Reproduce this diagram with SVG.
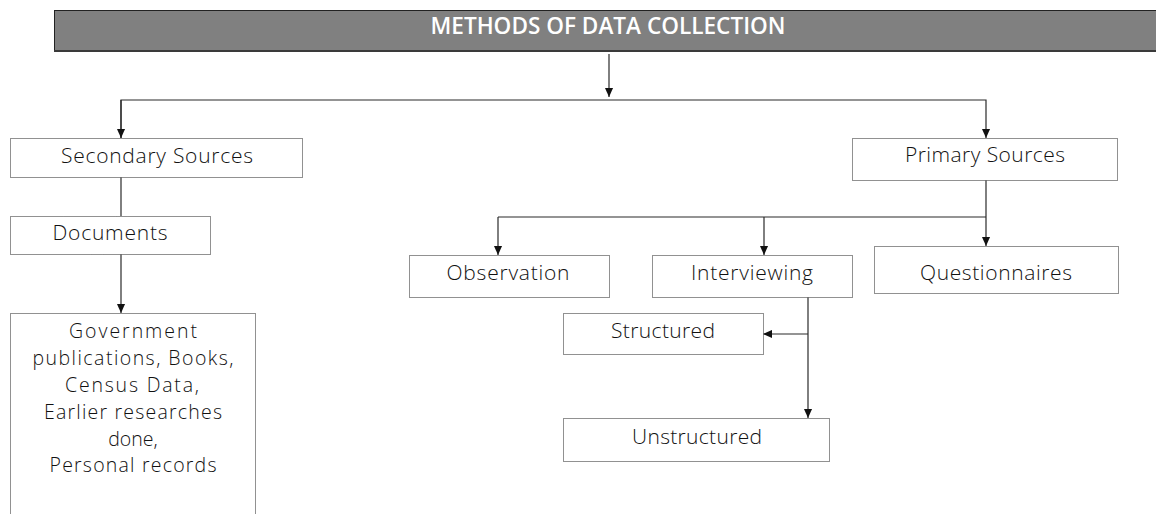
<svg xmlns="http://www.w3.org/2000/svg" width="1156" height="514" viewBox="0 0 1156 514">
<style>
.box{fill:#fff;stroke:#222;stroke-width:1;stroke-dasharray:1 1}
.lbl{font-family:"Open Sans","Noto Sans",sans-serif;font-weight:300;font-size:21px;fill:#111;text-anchor:middle}
.gl{font-size:19.5px}
.con{fill:none;stroke:#2a2a2a;stroke-width:1.2}
</style>
<defs>
<marker id="ah" viewBox="0 0 10 10" markerWidth="9" markerHeight="9" refX="10" refY="5" orient="auto" markerUnits="userSpaceOnUse">
<path d="M0,0.5 L10,5 L0,9.5 z" fill="#111"/>
</marker>
</defs>
<g id="title">
<rect x="54.5" y="10.5" width="1110" height="41" fill="#808080" stroke="#222" stroke-width="1"/>
<line x1="54" y1="51" x2="1156" y2="51" stroke="#3a3a3a" stroke-width="2"/>
<text x="608" y="34" font-family="'Open Sans','Liberation Sans',sans-serif" font-size="23" font-weight="600" fill="#fff" text-anchor="middle" textLength="355" lengthAdjust="spacingAndGlyphs">METHODS OF DATA COLLECTION</text>
</g>
<g id="connectors">
<polyline class="con" points="121,138 121,100 986,100 986,138" marker-end="url(#ah)"/>
<line class="con" x1="609" y1="54" x2="609" y2="97" marker-end="url(#ah)"/>
<line class="con" x1="121" y1="100" x2="121" y2="138" marker-end="url(#ah)"/>
<line class="con" x1="121" y1="177" x2="121" y2="216"/>
<line class="con" x1="121" y1="254" x2="121" y2="313" marker-end="url(#ah)"/>
<line class="con" x1="986" y1="180" x2="986" y2="246" marker-end="url(#ah)"/>
<line class="con" x1="498" y1="217" x2="986" y2="217"/>
<line class="con" x1="498" y1="217" x2="498" y2="255" marker-end="url(#ah)"/>
<line class="con" x1="764" y1="217" x2="764" y2="255" marker-end="url(#ah)"/>
<line class="con" x1="808" y1="297" x2="808" y2="418" marker-end="url(#ah)"/>
<line class="con" x1="808" y1="334" x2="763" y2="334" marker-end="url(#ah)"/>
</g>
<g id="secondary">
<rect class="box" x="10.5" y="138.5" width="292" height="39"/>
<text class="lbl" x="157" y="163" textLength="192">Secondary Sources</text>
</g>
<g id="documents">
<rect class="box" x="10.5" y="216.5" width="200" height="38"/>
<text class="lbl" x="110" y="240" textLength="115">Documents</text>
</g>
<g id="government">
<rect class="box" x="10.5" y="313.5" width="245" height="210"/>
<text class="lbl gl" x="133" y="338" textLength="128">Government</text>
<text class="lbl gl" x="133" y="365" textLength="201">publications, Books,</text>
<text class="lbl gl" x="132" y="392" textLength="134">Census Data,</text>
<text class="lbl gl" x="133" y="419" textLength="178">Earlier researches</text>
<text class="lbl gl" x="133" y="446">done,</text>
<text class="lbl gl" x="133" y="472" textLength="167">Personal records</text>
</g>
<g id="primary">
<rect class="box" x="852.5" y="138.5" width="265" height="42"/>
<text class="lbl" x="985" y="162" textLength="160">Primary Sources</text>
</g>
<g id="observation">
<rect class="box" x="409.5" y="255.5" width="200" height="42"/>
<text class="lbl" x="508" y="280" textLength="123">Observation</text>
</g>
<g id="interviewing">
<rect class="box" x="652.5" y="255.5" width="200" height="42"/>
<text class="lbl" x="752" y="280" textLength="122">Interviewing</text>
</g>
<g id="questionnaires">
<rect class="box" x="874.5" y="246.5" width="244" height="47"/>
<text class="lbl" x="996" y="280" textLength="152">Questionnaires</text>
</g>
<g id="structured">
<rect class="box" x="563.5" y="313.5" width="200" height="41"/>
<text class="lbl" x="663" y="338" textLength="104">Structured</text>
</g>
<g id="unstructured">
<rect class="box" x="563.5" y="418.5" width="266" height="43"/>
<text class="lbl" x="697" y="444" textLength="130">Unstructured</text>
</g>
</svg>
